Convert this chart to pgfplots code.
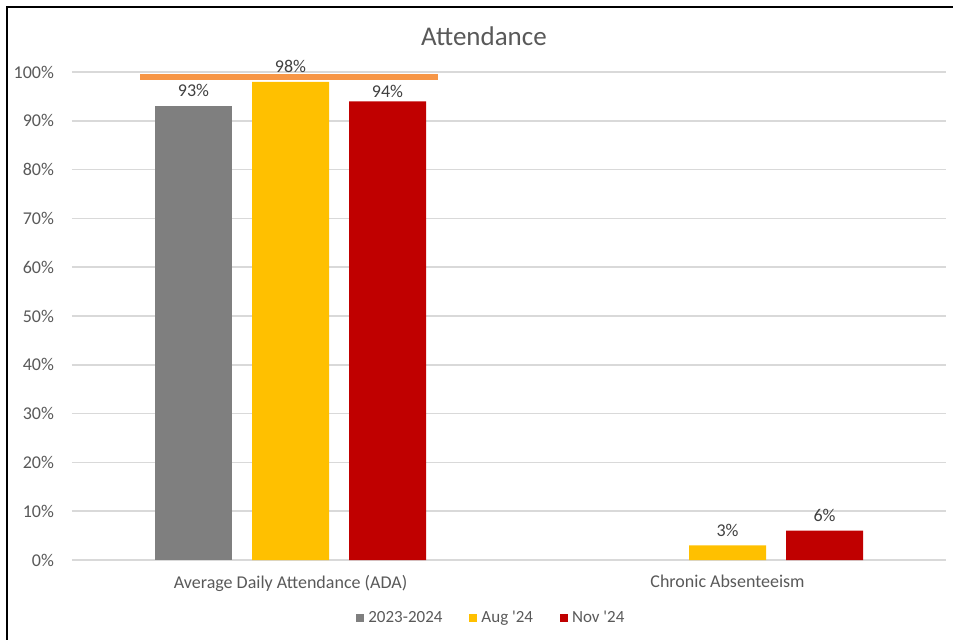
\documentclass[border=0pt]{standalone}
\usepackage{fontspec}
\setmainfont{Carlito}[Ligatures=TeXOff]
\usepackage{pgfplots}
\pgfplotsset{compat=1.18}
\definecolor{cgrey}{HTML}{7F7F7F}
\definecolor{cyel}{HTML}{FFC000}
\definecolor{cred}{HTML}{C00000}
\definecolor{corange}{HTML}{F79646}
\definecolor{ctext}{HTML}{595959}
\definecolor{cgrid}{HTML}{D9D9D9}
\definecolor{clabel}{HTML}{404040}
\begin{document}
\begin{tikzpicture}
\useasboundingbox (-36pt,-39.5pt) rectangle (440.5pt,280pt);
\begin{scope}
\clip (-36pt,-39.5pt) rectangle (440.5pt,280pt);
\draw[black, line width=1pt] (-32.5pt,-60pt) -- (-32.5pt,276.5pt) -- (470pt,276.5pt);
\end{scope}
\begin{axis}[at={(0pt,0pt)}, anchor=south west, scale only axis,
  width=437pt, height=244pt,
  ybar, bar width=38.5pt,
  xmin=-0.5, xmax=1.5, ymin=0, ymax=100,
  xtick={0,1},
  xticklabels={Average Daily Attendance (ADA), Chronic Absenteeism},
  ytick={0,10,20,30,40,50,60,70,80,90,100},
  yticklabels={0\%,10\%,20\%,30\%,40\%,50\%,60\%,70\%,80\%,90\%,100\%},
  major tick length=0pt,
  axis line style={draw=none},
  ymajorgrids, grid style={cgrid, line width=0.75pt},
  ticklabel style={font=\fontsize{9}{11}\selectfont, text=ctext},
  yticklabel style={xshift=-5.5pt},
  xticklabel style={yshift=-4pt},
  /pgf/number format/assume math mode=true,
  legend columns=3,
  legend style={at={(0.481,-0.1195)}, anchor=center, draw=none, fill=none,
    font=\fontsize{8.5}{10}\selectfont, text=ctext,
    /tikz/every even column/.append style={column sep=11.5pt}},
  clip=false,
  every node near coord/.append style={font=\fontsize{9}{11}\selectfont, text=clabel, yshift=1pt},
]
\addplot[fill=cgrey, draw=none, bar shift=-48.5pt,
  nodes near coords={\pgfmathprintnumber{\pgfplotspointmeta}\%},
  legend image code/.code={\fill[cgrey] (0pt,-2pt) rectangle (4pt,2pt);}]
  coordinates {(0,93)};
\addlegendentry{2023-2024}
\addplot[fill=cyel, draw=none, bar shift=0pt,
  nodes near coords={\pgfmathprintnumber{\pgfplotspointmeta}\%},
  legend image code/.code={\fill[cyel] (0pt,-2pt) rectangle (4pt,2pt);}]
  coordinates {(0,98) (1,3)};
\addlegendentry{Aug '24}
\addplot[fill=cred, draw=none, bar shift=48.5pt,
  nodes near coords={\pgfmathprintnumber{\pgfplotspointmeta}\%},
  visualization depends on={x \as \xv},
  every node near coord/.append style={yshift={(\xv-1)*2.5pt}},
  legend image code/.code={\fill[cred] (0pt,-2pt) rectangle (4pt,2pt);}]
  coordinates {(0,94) (1,6)};
\addlegendentry{Nov '24}
\addplot[corange, line width=3pt, sharp plot, mark=none, forget plot]
  coordinates {(-0.344,99) (0.338,99)};
\end{axis}
\node[text=ctext, font=\fontsize{13.5}{16}\selectfont] at (206pt,262pt) {Attendance};
\end{tikzpicture}
\end{document}
